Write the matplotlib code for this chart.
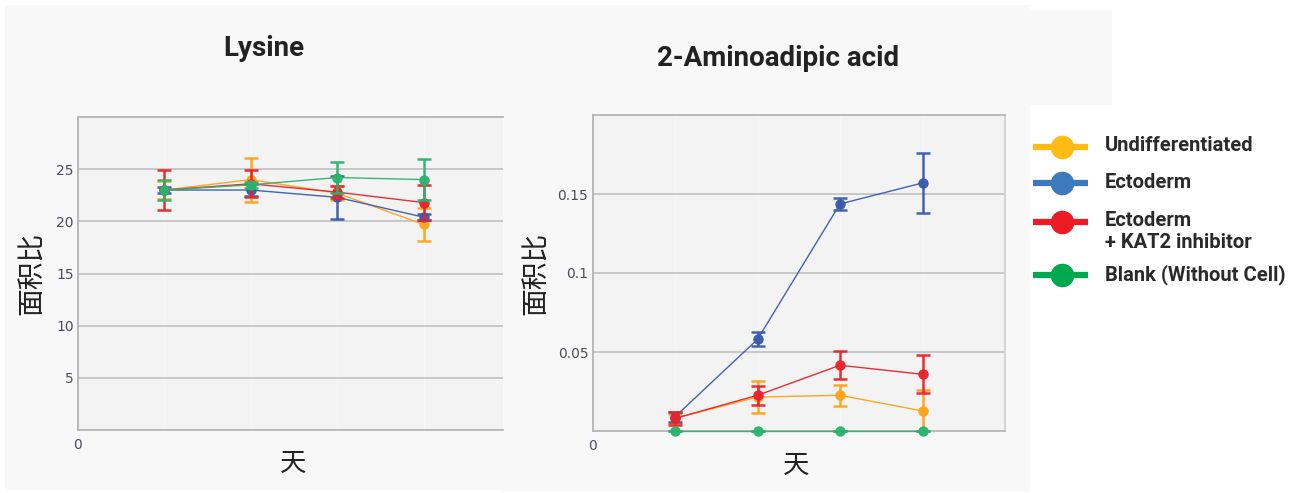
import matplotlib
matplotlib.use("Agg")
import matplotlib.pyplot as plt
from matplotlib.patches import Rectangle
from matplotlib.lines import Line2D

# ---------------- data ----------------
days = [1, 2, 3, 4]
series_names = ["Undifferentiated", "Ectoderm", "Ectoderm\n+ KAT2 inhibitor", "Blank (Without Cell)"]

lys_undiff = [23.0, 24.0, 22.7, 19.7]
lys_undiff_err = [0.9, 2.1, 0.7, 1.6]
lys_ecto = [23.0, 23.0, 22.3, 20.4]
lys_ecto_err = [0.3, 0.6, 2.05, 0.3]
lys_kat2 = [23.0, 23.6, 22.8, 21.8]
lys_kat2_err = [1.9, 1.3, 0.6, 1.7]
lys_blank = [23.0, 23.5, 24.2, 24.0]
lys_blank_err = [1.0, 0.3, 1.5, 2.0]

aad_undiff = [0.008, 0.0215, 0.0226, 0.0127]
aad_undiff_err = [0.003, 0.010, 0.0067, 0.013]
aad_ecto = [0.009, 0.058, 0.1437, 0.157]
aad_ecto_err = [0.003, 0.0045, 0.004, 0.019]
aad_kat2 = [0.008, 0.0226, 0.0416, 0.0359]
aad_kat2_err = [0.0043, 0.006, 0.009, 0.012]
aad_blank = [0.0, 0.0, 0.0, 0.0]
aad_blank_err = [0.0, 0.0, 0.0, 0.0]

lys_yticks = [5, 10, 15, 20, 25]
aad_yticks = [0.05, 0.1, 0.15]
aad_yticklabels = ["0.05", "0.1", "0.15"]

titles = ["Lysine", "2-Aminoadipic acid"]
ylabel = "面积比"
xlabel = "天"

line_colors = ["#FFA31A", "#3A5BAA", "#E8232B", "#2BB36E"]
legend_colors = ["#FDBB13", "#3F79BD", "#EC1C24", "#00A84F"]

# ---------------- figure ----------------
W, H = 1302, 493
fig = plt.figure(figsize=(W / 100, H / 100), dpi=100, facecolor="white")


def fx(x):
    return x / W


def fy(y):
    return 1 - y / H


page_bg = "#f8f8f8"
plot_bg = "#f3f3f3"
for (x0, y0, x1, y1) in [(5, 5, 502, 490), (502, 5, 1030, 492), (1030, 10, 1112, 105)]:
    fig.add_artist(Rectangle((fx(x0), fy(y1)), fx(x1 - x0), (y1 - y0) / H,
                             transform=fig.transFigure, facecolor=page_bg,
                             edgecolor="none", zorder=-10))

ax1 = fig.add_axes([fx(78), fy(430), fx(503 - 78), (430 - 117) / H])
ax2 = fig.add_axes([fx(592.5), fy(431), fx(1005 - 592.5), (431 - 115) / H])

tick_color = "#4b4b5c"
grid_color = "#c4c4c4"
spine_color = "#b4b4b4"


def style(ax, ylim, xlim, yticks, yticklabels, right_spine):
    ax.set_facecolor(plot_bg)
    ax.set_xlim(*xlim)
    ax.set_ylim(*ylim)
    ax.set_yticks(yticks)
    ax.set_yticklabels(yticklabels)
    ax.set_xticks([0])
    ax.set_xticklabels(["0"])
    for d in days:
        ax.axvline(d, color="#f7f7f7", lw=1.0, zorder=0.5)
    for t in yticks:
        ax.axhline(t, color=grid_color, lw=1.3, zorder=0.6)
    ax.tick_params(axis="both", length=0, labelsize=10, labelcolor=tick_color,
                   pad=3)
    ax.tick_params(axis="x", pad=6)
    for s in ["left", "bottom", "top"]:
        ax.spines[s].set_color(spine_color)
        ax.spines[s].set_linewidth(1.3)
    ax.spines["right"].set_visible(right_spine)
    ax.spines["right"].set_color("#d0d0d0")
    ax.spines["right"].set_linewidth(1.3)
    for lab in ax.get_xticklabels() + ax.get_yticklabels():
        lab.set_family("DejaVu Sans")


style(ax1, (0, 30), (0, 4.92), lys_yticks, [str(v) for v in lys_yticks], False)
style(ax2, (0, 0.2), (0, 5.0), aad_yticks, aad_yticklabels, True)

lys_series = [(lys_undiff, lys_undiff_err), (lys_ecto, lys_ecto_err),
              (lys_kat2, lys_kat2_err), (lys_blank, lys_blank_err)]
aad_series = [(aad_undiff, aad_undiff_err), (aad_ecto, aad_ecto_err),
              (aad_kat2, aad_kat2_err), (aad_blank, aad_blank_err)]

for ax, series in [(ax1, lys_series), (ax2, aad_series)]:
    for i, ((vals, errs), c) in enumerate(zip(series, line_colors)):
        ax.errorbar(days, vals, yerr=errs, color=c, lw=1.0, marker="o",
                    markersize=6.5, elinewidth=1.8, capsize=5, capthick=1.8,
                    zorder=3 + i, clip_on=False, alpha=0.95)

# titles
title_font = ["Roboto", "DejaVu Sans"]
fig.text(fx(264), fy(48), titles[0], ha="center", va="center", fontsize=20,
         fontweight="bold", family=title_font, color="#222222")
fig.text(fx(778), fy(59), titles[1], ha="center", va="center", fontsize=20,
         fontweight="bold", family=title_font, color="#222222")

cjk = ["Noto Sans CJK SC", "DejaVu Sans"]
fig.text(fx(32), fy(273), ylabel, rotation=90, ha="center", va="center",
         fontsize=20, family=cjk, color="#222222")
fig.text(fx(536), fy(273), ylabel, rotation=90, ha="center", va="center",
         fontsize=20, family=cjk, color="#222222")
fig.text(fx(293), fy(463), xlabel, ha="center", va="center",
         fontsize=19, family=cjk, color="#222222")
fig.text(fx(796), fy(465), xlabel, ha="center", va="center",
         fontsize=19, family=cjk, color="#222222")

# legend (manual, to match layout)
leg_y = [147, 183, 222, 275]
for name, c, y in zip(series_names, legend_colors, leg_y):
    fig.add_artist(Line2D([fx(1033), fx(1088)], [fy(y), fy(y)], color=c, lw=4.5,
                          transform=fig.transFigure, solid_capstyle="butt"))
    fig.add_artist(Line2D([fx(1062)], [fy(y)], color=c, marker="o", markersize=17,
                          markeredgewidth=0, transform=fig.transFigure))
    fig.text(fx(1105), fy(y - 10.5), name, ha="left", va="top", fontsize=14.5,
             fontweight="bold", family=title_font, color="#2a2a2a",
             linespacing=1.15)

fig.savefig("out.png", dpi=100, facecolor="white")
